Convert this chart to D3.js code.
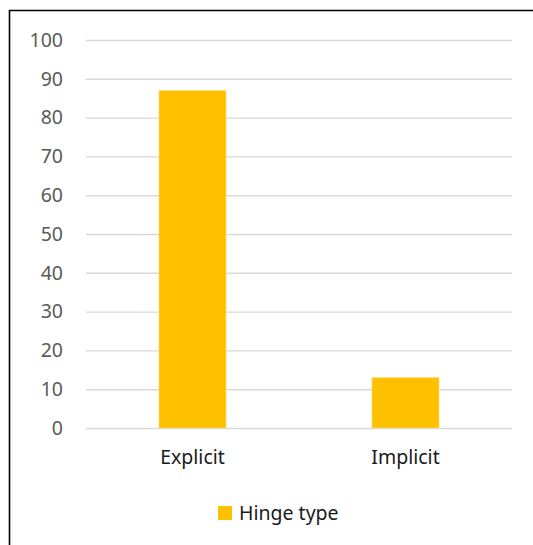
<!DOCTYPE html>
<html>
<head>
<meta charset="utf-8">
<script src="https://cdn.jsdelivr.net/npm/d3@7"></script>
<style>
  html, body { margin: 0; padding: 0; background: #fff; }
  svg { display: block; }
  text { font-family: "Noto Sans", "Open Sans", sans-serif; }
</style>
</head>
<body>
<svg id="chart" width="533" height="545"></svg>
<script>
// Share of hinges by type
const categories = ["Explicit", "Implicit"];
const values = [87, 13];
const yTicks = [0, 10, 20, 30, 40, 50, 60, 70, 80, 90, 100];
const seriesName = "Hinge type";

const svg = d3.select("#chart");
const W = 533, H = 545;
const plot = { left: 86, right: 512, top: 40, bottom: 428 };
const barColor = "#FFC000";

// Frame (continues past the right and bottom edges of the view)
svg.append("path")
  .attr("d", `M9.5,${H + 5} V10.5 H${W + 5}`)
  .attr("fill", "none")
  .attr("stroke", "#000")
  .attr("stroke-width", 1.6);

const x = d3.scaleBand()
  .domain(categories)
  .range([plot.left, plot.right])
  .paddingInner(0.685)
  .paddingOuter(0.3425);

const y = d3.scaleLinear()
  .domain([0, 100])
  .range([plot.bottom, plot.top]);

// Gridlines and value labels
const yAxis = d3.axisLeft(y)
  .tickValues(yTicks)
  .tickSize(-(plot.right - plot.left))
  .tickPadding(23)
  .tickFormat(d3.format("d"));

const gy = svg.append("g")
  .attr("transform", `translate(${plot.left},0)`)
  .call(yAxis);
gy.select(".domain").remove();
gy.selectAll(".tick line")
  .attr("stroke", "#d9d9d9")
  .attr("stroke-width", 1.4);
gy.selectAll(".tick text")
  .attr("fill", "#595959")
  .style("font-size", "19.5px")
  .attr("font-family", "Noto Sans, sans-serif");

// Bars
svg.append("g")
  .selectAll("rect")
  .data(values)
  .join("rect")
  .attr("x", (d, i) => x(categories[i]))
  .attr("y", d => y(d))
  .attr("width", x.bandwidth())
  .attr("height", d => y(0) - y(d))
  .attr("fill", barColor)
  .attr("stroke", "#ffe08a")
  .attr("stroke-width", 0.6);

// Category labels
const xAxis = d3.axisBottom(x).tickSize(0).tickPadding(22);
const gx = svg.append("g")
  .attr("transform", `translate(0,${plot.bottom})`)
  .call(xAxis);
gx.select(".domain").remove();
gx.selectAll(".tick text")
  .attr("fill", "#1a1a1a")
  .style("font-size", "19.5px")
  .attr("font-family", "Noto Sans, sans-serif");

// Legend
const legend = svg.append("g").attr("transform", "translate(218,506)");
legend.append("rect")
  .attr("width", 14)
  .attr("height", 14)
  .attr("fill", barColor);
legend.append("text")
  .attr("x", 21)
  .attr("y", 13.5)
  .attr("fill", "#1a1a1a")
  .style("font-size", "19.5px")
  .text(seriesName);
</script>
</body>
</html>
